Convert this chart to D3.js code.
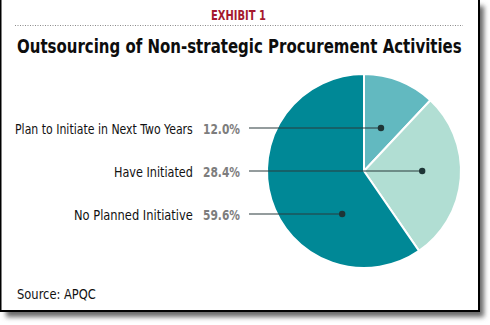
<!DOCTYPE html>
<html>
<head>
<meta charset="utf-8">
<script src="https://cdn.jsdelivr.net/npm/d3@7"></script>
<style>
  html, body { margin: 0; padding: 0; background: #ffffff; }
  svg { display: block; }
  text { font-family: "DejaVu Sans Condensed", "Liberation Sans Narrow", sans-serif; }
</style>
</head>
<body>
<svg id="chart" width="490" height="325"></svg>
<script>
const categories = ["Plan to Initiate in Next Two Years", "Have Initiated", "No Planned Initiative"];
const values = [12.0, 28.4, 59.6];
const valueLabels = ["12.0%", "28.4%", "59.6%"];
const colors = ["#62b9c0", "#b1ded3", "#008896"];
const exhibitLabel = "EXHIBIT 1";
const titleText = "Outsourcing of Non-strategic Procurement Activities";
const sourceText = "Source: APQC";

const W = 490, H = 325;
const svg = d3.select("#chart");

// place text starting at x (left edge) with baseline y, horizontally scaled to width w
function fitText(parent, str, x, y, w, attrs) {
  const t = parent.append("text").attr("x", 0).attr("y", 0).text(str);
  Object.entries(attrs).forEach(([k, v]) => t.attr(k, v));
  const w0 = t.node().getComputedTextLength();
  const sx = w0 > 0 ? w / w0 : 1;
  t.attr("transform", `translate(${x},${y}) scale(${sx},1)`);
  return t;
}

const defs = svg.append("defs");
const f = defs.append("filter").attr("id", "blur").attr("x", "-10%").attr("y", "-10%").attr("width", "120%").attr("height", "120%");
f.append("feGaussianBlur").attr("stdDeviation", 2.5);

// frame shadow
svg.append("rect").attr("x", 6).attr("y", 6).attr("width", 478).attr("height", 311)
  .attr("fill", "#6a6a6a").attr("filter", "url(#blur)");
// frame
svg.append("rect").attr("x", 0.5).attr("y", -3).attr("width", 478.5).attr("height", 314)
  .attr("fill", "#ffffff").attr("stroke", "#000").attr("stroke-width", 2);

// exhibit label
fitText(svg, exhibitLabel, 211, 20, 55, {"font-size": 14, "font-weight": "bold", "fill": "#a5192e"});

// dotted rule
svg.append("line").attr("x1", 15).attr("x2", 463).attr("y1", 25.5).attr("y2", 25.5)
  .attr("stroke", "#8a8a8a").attr("stroke-width", 1).attr("stroke-dasharray", "1,1.5");

// title
fitText(svg, titleText, 17, 53, 445, {"font-size": 19.5, "font-weight": "bold", "fill": "#0d0d0d"});

// pie
const cx = 364, cy = 171, r = 97;
const pie = d3.pie().sort(null).value(d => d)(values);
const arc = d3.arc().innerRadius(0).outerRadius(r);
const g = svg.append("g").attr("transform", `translate(${cx},${cy})`);
g.selectAll("path").data(pie).join("path")
  .attr("d", arc).attr("fill", (d, i) => colors[i])
  .attr("stroke", "#fff").attr("stroke-width", 2).attr("stroke-linejoin", "round");

// label rows
const rowY = d3.scalePoint().domain(d3.range(values.length)).range([cy - 43, cy + 43]);
const dotFrac = [0.175, 0.6, -0.225];   // horizontal placement of callout dot within each slice (fraction of radius)
const labelRight = 193;
const labelWidths = [178, 79, 119];
const lineStart = 249;

values.forEach((v, i) => {
  const y = rowY(i);
  const dx = cx + dotFrac[i] * r;
  svg.append("line").attr("x1", lineStart).attr("x2", dx).attr("y1", y).attr("y2", y)
    .attr("stroke", "#2a3b3d").attr("stroke-width", 1.1);
  svg.append("circle").attr("cx", dx).attr("cy", y).attr("r", 3.2).attr("fill", "#1e3536");
  fitText(svg, categories[i], labelRight - labelWidths[i], y + 5.5, labelWidths[i], {"font-size": 14.5, "fill": "#111"});
  fitText(svg, valueLabels[i], 203, y + 5.5, 37, {"font-size": 14.5, "font-weight": "bold", "fill": "#7d7d7d"});
});

// source
fitText(svg, sourceText, 17, 299, 79, {"font-size": 14.5, "fill": "#111"});
</script>
</body>
</html>
